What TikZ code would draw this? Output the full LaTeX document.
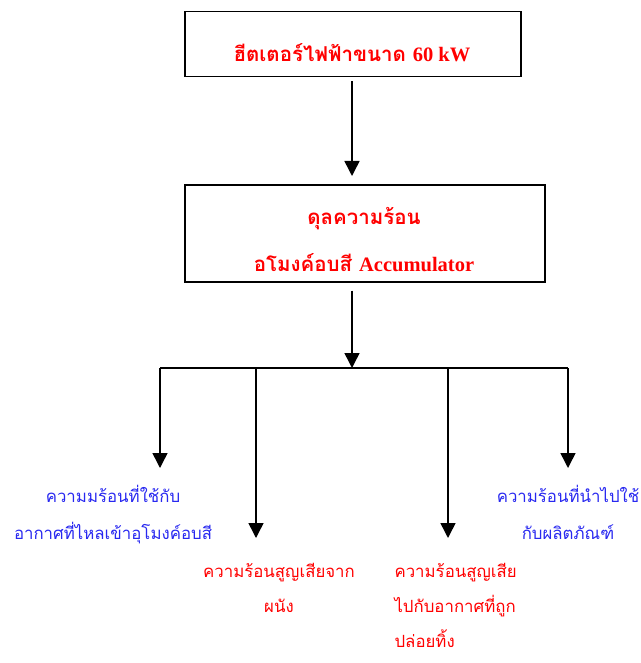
\documentclass[tikz,border=0pt]{standalone}
\usepackage{fontspec}
\setmainfont{Liberation Serif}
\newfontfamily\thai[Script=Thai]{Loma}
\usetikzlibrary{arrows.meta}
\definecolor{tred}{RGB}{255,0,0}
\definecolor{tblue}{RGB}{40,40,240}
\begin{document}
\begin{tikzpicture}[x=1pt,y=-1pt,
  conn/.style={line width=1.5pt,-{Triangle[width=15pt,length=15pt]}},
  line/.style={line width=1.5pt},
  titletxt/.style={text=tred,font=\thai\bfseries\fontsize{20.5}{26}\selectfont,align=center},
  bluetxt/.style={text=tblue,font=\thai\fontsize{16.8}{37}\selectfont,align=center},
  redtxt/.style={text=tred,font=\thai\fontsize{16.8}{35}\selectfont},
]
\useasboundingbox (0,0) rectangle (640,663);
\node[draw,line width=1.5pt,minimum width=336pt,minimum height=65pt,anchor=north west] (b1) at (184,11) {};
\node[titletxt] (t1) at (352,53) {ฮีตเตอร์ไฟฟ้าขนาด {\rmfamily\bfseries 60 kW}};
\node[draw,line width=1.5pt,minimum width=360pt,minimum height=97pt,anchor=north west] (b2) at (184,184) {};
\node[titletxt] (t2) at (364,219) {ดุลความร้อน};
\node[titletxt] (t3) at (364,263) {อโมงค์อบสี {\rmfamily\bfseries Accumulator}};
\coordinate (h) at (352,368);
\coordinate (hl) at (160,368);
\coordinate (hml) at (256,368);
\coordinate (hmr) at (448,368);
\coordinate (hr) at (568,368);
\coordinate (e1) at (160,468);
\coordinate (e2) at (256,538);
\coordinate (e3) at (448,538);
\coordinate (e4) at (568,468);
\draw[conn] (b1.south -| h) ++(0,4) -- (352,176);
\draw[conn] (b2.south -| h) ++(0,8) -- (h);
\draw[line] (hl) -- (hr);
\draw[conn] (hl) -- (e1);
\draw[conn] (hml) -- (e2);
\draw[conn] (hmr) -- (e3);
\draw[conn] (hr) -- (e4);
\node[bluetxt,anchor=north] (l1) at (113,482) {ความมร้อนที่ใช้กับ\\อากาศที่ไหลเข้าอุโมงค์อบสี};
\node[redtxt,align=center,anchor=north] (l2) at (279,560) {ความร้อนสูญเสียจาก\\ผนัง};
\node[redtxt,align=left,anchor=north west] (l3) at (391,560) {ความร้อนสูญเสีย\\ไปกับอากาศที่ถูก\\ปล่อยทิ้ง};
\node[bluetxt,anchor=north] (l4) at (568,482) {ความร้อนที่นำไปใช้\\กับผลิตภัณฑ์};
\end{tikzpicture}
\end{document}
